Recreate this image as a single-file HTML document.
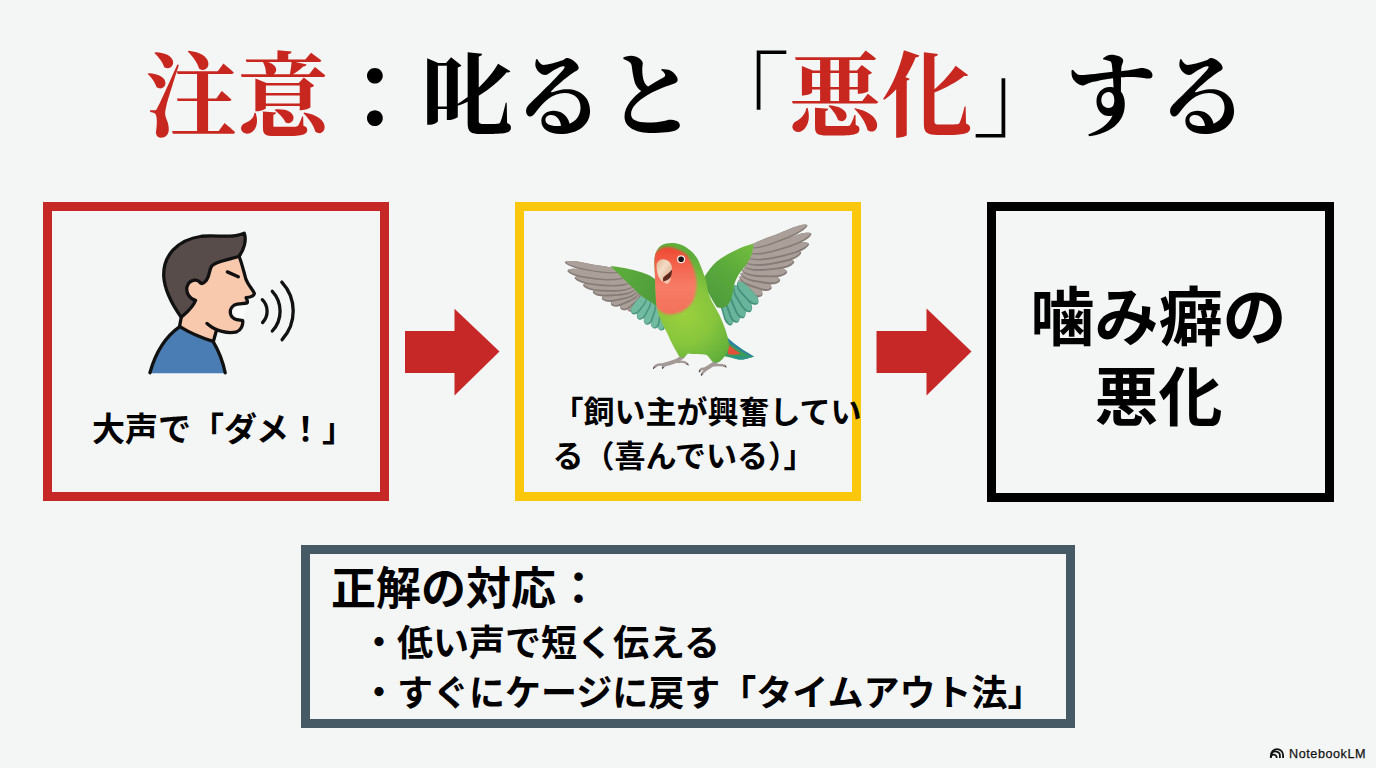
<!DOCTYPE html>
<html lang="ja"><head><meta charset="utf-8"><title>注意：叱ると「悪化」する</title>
<style>
html,body{margin:0;padding:0}
body{width:1376px;height:768px;background:#f4f5f5;position:relative;overflow:hidden;font-family:"Liberation Sans","Noto Sans CJK JP",sans-serif}
.box{position:absolute;box-sizing:border-box}
.b1{left:43px;top:202px;width:346px;height:299px;border:9px solid #c62828}
.b2{left:515px;top:202px;width:346px;height:299px;border:9.5px solid #fbc70d}
.b3{left:987px;top:202px;width:346.5px;height:299.5px;border:9.5px solid #000}
.b4{left:301px;top:545px;width:774px;height:183px;border:9px solid #455a64}
svg.art{position:absolute;left:0;top:0;width:1376px;height:768px}
.t{position:absolute;margin:0;color:#000;white-space:nowrap;font-weight:bold;line-height:1}
.wm{position:absolute;left:1289px;top:746.5px;font-size:12.6px;line-height:15px;color:#111;letter-spacing:.57px;-webkit-text-stroke:.25px #111}
</style></head><body>
<div class="box b1"><p class="t" style="left:40px;top:202px;font-size:33px">大声で「ダメ！」</p></div>
<div class="box b2"><p class="t" style="left:28.5px;top:179.5px;font-size:31px;line-height:44px">「飼い主が興奮してい<br>る（喜んでいる）」</p></div>
<div class="box b3"><p class="t" style="left:34.5px;top:66.5px;font-size:64px;line-height:80px;text-align:center">噛み癖の<br>悪化</p></div>
<div class="box b4"><p class="t" style="left:21px;top:13px;font-size:45px">正解の対応：</p>
<ul class="t" style="left:51px;top:65px;font-size:36px;line-height:50px;padding:0;list-style:none"><li>・低い声で短く伝える</li><li>・すぐにケージに戻す「タイムアウト法」</li></ul></div>
<svg class="art" viewBox="0 0 1376 768" aria-hidden="true">
<path fill="#c62828" d="M405 331H454.5V308.8L499.5 351.6L454.5 395.5V373H405Z M876.5 331H926.5V308.5L971.5 351.4L926.5 395.5V373H876.5Z"/>
<g stroke-linecap="round" stroke-linejoin="round">
<g transform="translate(150 225) scale(0.15625)">
<path fill="#f9c9ae" d="M570 200C590 250 600 300 615 350C630 390 660 415 668 438C665 455 640 462 615 465C618 478 628 485 622 498C600 505 565 500 540 512C505 535 505 580 540 600C560 610 580 608 593 612C598 640 582 672 555 684C520 694 470 690 425 672L398 772L175 672L200 590L225 480L225 380L300 330L400 250Z"/>
<path fill="#fbfbfb" d="M622 498C600 505 565 500 540 512C505 535 505 580 540 600C560 610 580 608 593 612Z"/>
<path fill="#584c4b" stroke="#111" stroke-width="21" d="M200 590C150 520 95 430 88 330C82 200 170 95 330 72C430 60 520 90 603 52C620 100 600 160 570 200C500 225 420 230 395 262C375 290 385 330 355 360C345 372 335 378 325 372C300 340 250 350 237 395C228 435 255 475 292 482C275 530 235 560 200 590Z"/>
<path fill="none" stroke="#111" stroke-width="21" d="M570 200C590 250 600 300 615 350C630 390 660 415 668 438C665 455 640 462 615 465C618 478 628 485 622 498C600 505 565 500 540 512C505 535 505 580 540 600C560 610 580 608 593 612C598 640 582 672 555 684C500 698 420 680 365 630M425 675L400 765M200 590L188 655M495 300L565 331"/>
</g>
<g transform="translate(130 220) scale(0.2214)">
<path fill="#4a7db4" d="M90 692C118 590 170 520 225 482C270 510 330 535 375 548C400 590 420 640 432 692Z"/>
<path fill="none" stroke="#111" stroke-width="15" d="M90 690C118 590 170 520 225 482M225 482C270 510 330 535 375 548C400 590 420 640 430 690"/>
</g>
<path fill="none" stroke="#111" stroke-width="3.3" d="M262.3 299.7A16.3 16.3 0 0 1 262.6 322.5M272.3 291.3A29.2 29.2 0 0 1 272.3 331M281.8 282.1A42.5 42.5 0 0 1 282.1 339.7"/>
</g>

<g><defs>
<radialGradient id="pgB" gradientUnits="userSpaceOnUse" cx="585" cy="450" r="260"><stop offset="0" stop-color="#9bd03e"/><stop offset=".5" stop-color="#88c63d"/><stop offset="1" stop-color="#5fae3b"/></radialGradient>
<linearGradient id="pgF" gradientUnits="userSpaceOnUse" x1="0" y1="140" x2="0" y2="450"><stop offset="0" stop-color="#ee4630"/><stop offset=".3" stop-color="#f4654f"/><stop offset=".6" stop-color="#f67c66"/><stop offset="1" stop-color="#f3705a"/></linearGradient>
<linearGradient id="pgL" gradientUnits="userSpaceOnUse" x1="430" y1="160" x2="800" y2="480"><stop offset="0" stop-color="#5eae3c"/><stop offset=".5" stop-color="#55a43b"/><stop offset="1" stop-color="#4c9a3c"/></linearGradient>
<linearGradient id="pgR" gradientUnits="userSpaceOnUse" x1="370" y1="190" x2="100" y2="560"><stop offset="0" stop-color="#74bd3e"/><stop offset=".5" stop-color="#5aa93b"/><stop offset="1" stop-color="#4f9c3c"/></linearGradient>
<linearGradient id="pgK" gradientUnits="userSpaceOnUse" x1="150" y1="300" x2="340" y2="420"><stop offset="0" stop-color="#e6bd9f"/><stop offset=".45" stop-color="#f3dcc6"/><stop offset="1" stop-color="#e2b597"/></linearGradient>
<filter id="pbl" x="-10%" y="-10%" width="120%" height="120%"><feGaussianBlur stdDeviation="5"/></filter>
</defs>
<g transform="translate(555 245) scale(0.130208)">
<path fill="#867c77" d="M662 380L641 380L620 388L602 405L587 424L573 443L560 460L555 474L555 486L557 496L560 502L565 508L565 508L572 511L579 512L589 512L600 508L612 500L625 483L640 464L654 445L666 423L668 400L662 380Z"/><path fill="#aaa099" d="M658 377L639 378L621 387L604 404L590 422L576 440L564 457L559 470L558 480L559 489L561 494L565 499L565 499L570 502L576 502L585 501L595 497L606 488L618 472L632 454L646 436L657 415L661 394L658 377Z"/><path fill="#867c77" d="M655 372L631 367L605 371L580 385L557 403L535 421L515 437L505 452L501 465L500 477L501 484L505 492L505 492L512 497L519 500L530 502L544 501L561 494L580 479L603 461L625 443L645 421L655 396L655 372Z"/><path fill="#aaa099" d="M651 367L630 365L606 370L582 385L561 402L539 419L521 435L510 448L505 460L504 470L504 476L507 483L507 483L512 486L519 488L529 489L541 487L557 480L576 465L597 448L619 430L638 410L649 388L651 367Z"/><path fill="#867c77" d="M648 362L623 353L592 353L558 364L525 378L493 392L464 404L446 417L436 429L431 441L429 449L430 457L430 457L435 464L443 468L455 472L471 474L493 471L522 459L555 445L587 431L618 412L638 387L648 362Z"/><path fill="#aaa099" d="M646 356L623 351L594 352L561 364L529 378L497 391L470 403L452 415L442 425L436 435L434 441L434 448L434 448L439 453L446 457L457 460L472 460L493 456L521 445L553 431L584 417L614 399L635 378L646 356Z"/><path fill="#867c77" d="M640 350L614 338L578 334L535 341L493 351L451 360L415 367L390 376L375 386L365 396L361 404L360 412L360 412L365 420L372 425L385 432L404 436L430 437L467 431L509 422L551 412L592 397L622 374L640 350Z"/><path fill="#aaa099" d="M639 344L614 336L579 334L538 341L497 351L456 359L420 366L397 374L381 383L372 391L367 398L366 404L366 404L370 410L377 415L389 420L407 423L433 423L469 417L510 408L551 399L590 384L620 365L639 344Z"/><path fill="#867c77" d="M630 335L601 320L560 313L509 314L458 319L407 322L362 324L332 330L312 338L299 347L293 354L290 362L290 362L294 370L301 377L316 385L337 392L368 396L412 395L463 392L514 387L565 376L604 357L630 335Z"/><path fill="#aaa099" d="M630 329L602 318L561 312L511 315L461 320L411 323L368 325L338 330L319 336L306 343L300 349L297 355L297 355L301 362L308 367L322 374L342 379L373 382L416 381L466 378L516 373L565 364L604 347L630 329Z"/><path fill="#867c77" d="M615 315L583 300L535 290L475 288L415 288L355 286L303 282L267 284L243 288L227 295L219 301L215 308L215 308L219 316L227 324L243 334L266 344L302 352L354 357L414 359L474 359L534 352L583 335L615 315Z"/><path fill="#aaa099" d="M615 309L584 297L537 290L478 289L419 289L360 287L309 283L274 284L250 287L234 292L226 296L222 302L222 302L226 309L234 315L249 323L273 332L308 339L359 343L418 346L477 345L536 339L583 326L615 309Z"/><path fill="#867c77" d="M595 285L560 268L508 256L441 251L374 248L307 241L250 234L210 233L183 235L164 240L155 245L150 252L150 252L154 260L162 268L179 279L205 290L245 301L302 310L369 316L436 319L503 316L558 303L595 285Z"/><path fill="#aaa099" d="M595 279L561 266L509 257L443 252L377 249L312 243L255 235L216 233L189 234L171 238L162 241L157 247L157 247L161 254L170 260L187 269L212 279L251 289L308 297L373 303L439 307L505 304L559 294L595 279Z"/><path fill="#867c77" d="M560 245L524 229L469 216L399 209L329 203L260 195L200 185L158 182L129 183L110 187L100 191L95 197L95 197L99 205L107 213L125 224L152 236L193 248L253 258L323 267L393 272L463 271L521 261L560 245Z"/><path fill="#aaa099" d="M561 240L525 226L470 216L401 210L332 204L264 196L205 186L163 182L135 182L117 185L107 188L102 192L102 192L106 199L115 205L132 215L159 225L199 236L259 246L327 255L396 261L466 260L522 252L561 240Z"/><path fill="#867c77" d="M520 205L486 188L434 172L367 161L300 151L234 139L176 127L136 122L109 122L90 124L80 127L75 132L75 132L78 139L86 146L103 156L129 168L168 180L225 192L292 204L359 214L426 219L482 215L520 205Z"/><path fill="#aaa099" d="M521 200L487 186L435 172L369 162L303 152L237 140L180 129L141 123L114 122L96 123L86 125L81 128L81 128L85 134L93 140L109 149L135 159L174 171L230 183L296 195L362 204L429 210L483 208L521 200Z"/>
<path fill="#4a9781" d="M815 495L799 508L787 528L783 552L783 577L784 601L785 622L790 636L797 646L804 652L811 656L818 657L818 657L825 655L832 652L839 645L846 635L850 621L850 600L850 575L849 551L844 527L832 508L815 495Z"/><path fill="#72bba0" d="M809 495L796 508L787 527L784 550L784 573L785 597L786 617L790 631L795 640L801 646L806 649L812 650L812 650L818 649L823 646L829 639L834 630L838 616L838 596L837 572L837 549L833 526L823 507L809 495Z"/><path fill="#4a9781" d="M790 465L771 476L755 496L746 522L742 548L738 575L735 598L737 614L742 626L749 634L755 639L762 642L762 642L770 641L777 639L786 633L794 624L801 608L806 585L810 559L814 532L814 505L805 482L790 465Z"/><path fill="#72bba0" d="M784 464L768 476L755 494L748 519L744 545L740 570L737 593L738 608L742 620L747 627L752 632L757 634L757 634L764 633L769 631L777 625L784 616L790 601L794 579L798 553L802 528L803 502L796 480L784 464Z"/><path fill="#4a9781" d="M760 435L739 444L720 461L707 486L698 513L690 539L683 563L682 580L685 593L690 602L695 608L702 612L702 612L710 613L717 611L727 606L737 598L747 584L755 561L764 534L772 508L777 480L772 455L760 435Z"/><path fill="#72bba0" d="M754 433L737 443L721 460L709 484L701 510L692 535L685 558L684 574L686 586L690 595L693 600L699 604L699 604L705 604L711 602L719 597L728 589L737 575L744 552L753 527L761 501L766 475L763 451L754 433Z"/><path fill="#4a9781" d="M730 410L708 415L686 428L669 450L656 475L643 499L632 520L628 537L629 550L632 560L636 567L642 572L642 572L650 574L657 574L667 571L679 565L691 552L703 532L716 507L729 483L739 457L738 431L730 410Z"/><path fill="#72bba0" d="M725 407L706 413L687 427L671 449L659 472L646 495L635 516L631 532L631 544L633 553L636 559L640 563L640 563L646 564L653 564L662 561L672 554L683 542L694 522L707 498L719 475L729 450L730 426L725 407Z"/><path fill="#4a9781" d="M700 390L678 390L655 399L635 417L619 438L603 459L589 477L583 492L582 505L584 515L587 522L592 528L592 528L599 531L606 533L617 532L629 528L642 518L657 501L673 480L689 459L702 436L705 412L700 390Z"/><path fill="#72bba0" d="M695 386L676 389L656 398L638 416L622 436L606 456L593 473L587 487L585 499L586 508L588 514L592 519L592 519L598 521L604 522L613 521L623 516L636 506L650 489L665 470L681 450L694 428L698 406L695 386Z"/>
<path fill="url(#pgL)" d="M425 162C520 172 620 192 700 222C740 238 765 255 775 270L790 400C795 430 800 460 805 490C780 470 760 455 740 440C700 415 670 400 645 375C600 330 545 280 505 240C470 205 445 180 425 162Z"/>
</g>
<g transform="translate(695 215) scale(0.15625)">
<path fill="#867c77" d="M276 418L280 440L292 461L313 479L336 494L359 509L379 521L395 526L408 526L418 523L425 520L430 515L430 515L432 508L433 501L430 491L425 479L413 467L393 454L370 439L347 424L322 413L297 412L276 418Z"/><path fill="#aaa099" d="M279 413L284 432L297 451L317 468L339 482L362 496L381 508L396 513L408 514L417 513L423 511L427 507L427 507L429 501L429 495L426 486L420 476L408 465L389 452L367 438L345 424L321 413L298 410L279 413Z"/><path fill="#867c77" d="M282 398L293 419L314 439L344 454L375 465L407 475L434 484L454 487L469 485L479 480L486 476L490 470L490 470L490 462L488 455L482 445L472 435L455 424L428 414L397 403L365 393L333 386L304 388L282 398Z"/><path fill="#aaa099" d="M284 393L296 411L317 428L346 442L376 452L406 463L433 471L452 474L466 474L476 471L482 467L486 463L486 463L485 456L483 450L477 442L467 433L450 423L423 414L393 403L363 393L332 385L304 386L284 393Z"/><path fill="#867c77" d="M288 378L306 398L335 416L372 427L411 434L449 440L483 444L507 443L524 438L535 432L541 427L545 420L545 420L544 413L539 406L530 397L516 388L493 381L460 376L421 370L383 363L344 360L311 366L288 378Z"/><path fill="#aaa099" d="M289 373L307 389L335 405L372 415L410 421L447 427L480 431L503 431L519 428L530 423L536 419L539 414L539 414L538 407L534 402L524 395L510 387L488 381L456 376L418 370L380 364L342 360L311 364L289 373Z"/><path fill="#867c77" d="M295 355L318 374L353 389L397 396L441 398L485 399L524 399L551 393L569 386L581 379L587 372L590 365L590 365L587 358L582 352L570 345L553 339L526 335L488 334L443 333L399 331L355 332L319 341L295 355Z"/><path fill="#aaa099" d="M295 350L318 365L352 378L395 384L438 386L482 387L519 386L545 382L563 377L575 370L581 365L584 359L584 359L581 354L575 349L564 343L547 338L521 335L483 335L440 334L397 332L354 332L319 339L295 350Z"/><path fill="#867c77" d="M305 330L333 346L374 356L424 358L474 354L523 349L566 343L595 334L614 324L626 315L632 308L635 300L635 300L631 293L624 288L610 283L590 279L560 279L517 284L468 289L418 293L369 300L330 313L305 330Z"/><path fill="#aaa099" d="M305 325L332 337L372 345L421 346L469 342L518 337L559 331L588 323L607 315L619 307L625 301L628 295L628 295L624 290L617 286L604 282L584 280L555 280L513 285L464 290L416 294L367 300L329 311L305 325Z"/><path fill="#867c77" d="M315 305L348 319L394 326L450 324L505 315L560 304L607 293L638 280L659 267L672 256L678 248L680 240L680 240L675 234L667 230L651 226L629 226L595 230L548 241L494 252L439 260L384 270L342 286L315 305Z"/><path fill="#aaa099" d="M314 300L345 310L391 315L446 312L500 304L553 293L599 282L631 270L651 259L664 249L670 242L673 236L673 236L668 231L660 228L645 226L623 227L590 231L544 242L491 253L437 261L383 271L341 284L314 300Z"/><path fill="#867c77" d="M325 275L362 287L414 291L476 285L537 273L598 258L649 243L684 228L707 214L721 202L728 193L730 185L730 185L724 179L715 176L698 174L673 175L636 182L584 196L523 211L462 223L402 237L355 255L325 275Z"/><path fill="#aaa099" d="M324 270L359 278L410 281L471 274L531 262L591 248L642 233L676 218L699 206L713 195L720 188L723 181L723 181L717 177L709 175L692 174L667 176L631 184L580 198L520 213L460 224L400 237L354 253L324 270Z"/><path fill="#867c77" d="M335 245L373 252L427 252L490 240L552 223L613 203L666 183L700 165L723 150L737 137L743 128L745 120L745 120L739 115L730 113L712 113L686 117L649 128L596 146L535 167L473 184L412 203L364 224L335 245Z"/><path fill="#aaa099" d="M334 240L370 245L423 242L485 230L546 213L606 193L658 174L693 157L715 143L729 131L735 124L738 117L738 117L732 114L723 112L706 114L681 119L644 130L593 148L532 168L471 185L411 203L363 222L334 240Z"/><path fill="#867c77" d="M330 215L366 217L418 210L478 193L537 171L595 148L645 126L678 107L699 92L712 80L718 72L720 65L720 65L714 62L705 61L688 62L663 68L627 80L577 101L519 125L460 146L402 169L357 193L330 215Z"/><path fill="#aaa099" d="M328 211L364 210L414 202L473 185L531 163L589 140L638 119L671 101L692 87L705 76L712 69L714 63L714 63L708 60L700 60L683 63L659 70L624 82L574 103L517 126L459 148L401 170L356 192L328 211Z"/>
<path fill="#44917c" d="M170 500L160 521L156 549L162 581L171 612L180 643L188 670L197 687L207 698L216 704L223 707L230 707L230 707L236 703L240 697L245 687L247 673L246 653L238 626L229 595L220 564L208 534L190 512L170 500Z"/><path fill="#68b59c" d="M175 499L168 518L166 545L172 576L181 606L189 636L197 662L206 679L214 690L222 696L227 699L233 700L233 700L238 696L241 691L244 681L246 668L244 649L236 622L228 592L219 562L207 533L192 511L175 499Z"/><path fill="#44917c" d="M200 488L190 510L187 538L194 569L204 600L215 630L224 656L235 673L245 683L255 688L262 690L270 690L270 690L276 686L281 680L285 669L287 655L285 635L276 609L266 578L255 548L241 519L221 499L200 488Z"/><path fill="#68b59c" d="M205 486L198 506L197 533L204 563L215 593L225 622L234 647L243 664L253 674L261 680L267 682L273 682L273 682L278 678L281 673L284 663L285 649L282 631L274 605L264 576L253 546L240 518L223 498L205 486Z"/><path fill="#44917c" d="M228 468L219 490L218 518L227 548L239 577L251 606L263 630L274 646L285 655L295 660L303 661L310 660L310 660L316 655L320 649L323 638L325 624L321 605L311 580L299 551L287 522L271 495L250 477L228 468Z"/><path fill="#68b59c" d="M233 466L227 486L228 512L237 541L249 569L261 597L271 621L282 636L292 645L300 650L306 652L312 652L312 652L317 648L320 642L322 632L322 619L319 601L309 576L297 549L285 521L270 494L251 476L233 466Z"/><path fill="#44917c" d="M250 450L244 472L247 499L259 527L275 552L291 578L305 599L318 612L330 619L340 622L348 622L355 620L355 620L360 614L363 608L365 597L365 583L359 566L346 543L330 518L314 492L295 469L272 455L250 450Z"/><path fill="#68b59c" d="M255 447L252 467L256 492L268 518L283 543L299 568L312 589L324 602L335 609L344 612L350 613L356 611L356 611L360 607L362 601L363 591L362 579L356 562L343 540L328 516L312 491L294 468L274 453L255 447Z"/><path fill="#44917c" d="M270 430L268 452L275 477L292 501L311 522L331 543L348 561L363 570L376 574L386 575L393 574L400 570L400 570L404 564L406 557L406 546L403 533L395 517L378 499L359 478L339 457L317 439L292 430L270 430Z"/><path fill="#68b59c" d="M274 426L274 446L282 469L299 491L318 512L337 532L353 549L367 559L379 563L388 565L394 564L400 561L400 561L403 556L404 550L403 541L399 529L391 514L375 496L356 476L337 456L316 438L294 428L274 426Z"/>
<path fill="url(#pgR)" d="M55 405C90 350 120 310 150 290C185 262 220 245 260 225C300 205 335 195 372 183C374 220 366 250 350 280C330 320 300 350 280 380C262 410 255 430 250 450C245 485 240 515 230 540C220 565 205 580 190 590C170 598 155 595 140 590C110 545 80 490 55 440Z"/>
</g>
<g transform="translate(640 300) scale(0.110644)">
<path fill="#3b9c58" d="M730 320L790 340C850 400 940 460 1032 512C1000 520 980 522 965 530C940 537 900 540 880 536C830 522 780 512 730 500Z"/>
<path fill="#2c9488" d="M800 500C860 510 930 512 1032 512C1000 520 980 522 965 530C940 537 900 540 880 536C850 528 820 515 800 500Z"/>
<path fill="#2f80a8" d="M785 338C850 400 940 460 1032 512L990 505C920 465 850 420 790 372Z"/>
<path fill="#e2523a" d="M790 395C830 430 870 460 910 482C880 497 840 497 795 490Z"/>
<g fill="none" stroke="#a39996" stroke-width="36" stroke-linecap="round" stroke-linejoin="round"><path d="M390 510L335 548C300 562 250 577 212 587M690 555L655 585C630 603 605 617 588 626"/></g>
<g fill="none" stroke="#a39996" stroke-width="22" stroke-linecap="round" stroke-linejoin="round"><path d="M212 587C175 578 145 590 130 607M216 590C212 597 209 603 208 608M345 560C380 553 412 560 428 578M588 626C565 615 548 625 541 640M592 632C575 645 563 658 559 670M665 590C700 586 745 585 770 598"/></g>
<g fill="none" stroke="#333" stroke-width="9" stroke-linecap="round"><path d="M130 607L122 620M208 608L204 618M428 578L436 588M541 640L537 650M559 670L556 680M770 598L778 606"/></g>
</g>
<g transform="translate(555 215) scale(0.221312)">
<clipPath id="pcb"><path d="M449 220C447 190 455 155 481 137C500 126 525 124 546 128C570 132 590 142 604 155C628 172 642 192 650 210C662 238 670 260 678 282C686 303 688 325 692 349C702 385 726 418 742 450C756 482 770 512 778 545C785 570 788 590 785 603C775 630 760 650 745 662C735 668 715 668 708 660C700 650 695 640 684 632C660 628 625 630 600 626C590 640 580 648 570 644C560 640 555 630 552 622C535 595 522 570 512 545C495 510 480 480 470 455C460 425 455 395 455 362C453 335 452 310 452 285Z"/></clipPath><path fill="url(#pgB)" d="M449 220C447 190 455 155 481 137C500 126 525 124 546 128C570 132 590 142 604 155C628 172 642 192 650 210C662 238 670 260 678 282C686 303 688 325 692 349C702 385 726 418 742 450C756 482 770 512 778 545C785 570 788 590 785 603C775 630 760 650 745 662C735 668 715 668 708 660C700 650 695 640 684 632C660 628 625 630 600 626C590 640 580 648 570 644C560 640 555 630 552 622C535 595 522 570 512 545C495 510 480 480 470 455C460 425 455 395 455 362C453 335 452 310 452 285Z"/>
<g clip-path="url(#pcb)"><path filter="url(#pbl)" fill="url(#pgF)" d="M415 220L415 395C440 418 455 425 468 427C485 445 505 452 526 450C560 447 585 432 604 414C620 398 630 380 633 362C638 340 641 320 640 304C638 285 635 268 630 252C623 230 615 210 604 194L598 181C570 160 540 148 513 145C490 144 470 152 455 168C440 172 415 190 415 220Z"/></g>
</g>
<g transform="translate(645 240) scale(0.078125)">
<path fill="url(#pgK)" d="M150 300C165 265 200 243 235 245C290 250 335 290 342 335C345 350 346 365 345 380C320 420 270 440 235 480C228 500 228 520 232 545C200 520 165 470 155 410C148 370 145 330 150 300Z"/>
<path fill="#efc4ad" d="M238 528C270 525 310 500 330 470C335 500 325 540 290 560C270 568 250 550 238 528Z"/>
<path fill="#5b2a20" d="M345 380C320 420 270 440 235 480C228 500 230 515 238 528C270 525 310 500 330 470C342 440 346 410 345 380Z"/>
<circle cx="462" cy="247" r="52" fill="#fbe9e4"/><circle cx="462" cy="247" r="36" fill="#1a1210"/>
</g></g>
<g fill="none" stroke="#111" stroke-width="1.8" stroke-linecap="butt">
<path d="M1271 758V755.1A6.05 6.05 0 0 1 1283.1 755.1V758"/>
<path d="M1271.2 754.4A4.5 4.5 0 0 1 1279.9 756.5V758"/>
<path d="M1270.6 757.3A2.9 2.9 0 0 1 1276.7 758"/>
</g>

</svg>
<h1 class="t" style="left:145px;top:52px;font-size:92px;font-family:'Liberation Serif','Noto Serif CJK SC',serif"><span style="color:#c8271f">注意</span>：叱ると「<span style="color:#c8271f">悪化</span>」する</h1>
<div class="wm">NotebookLM</div>
</body></html>
